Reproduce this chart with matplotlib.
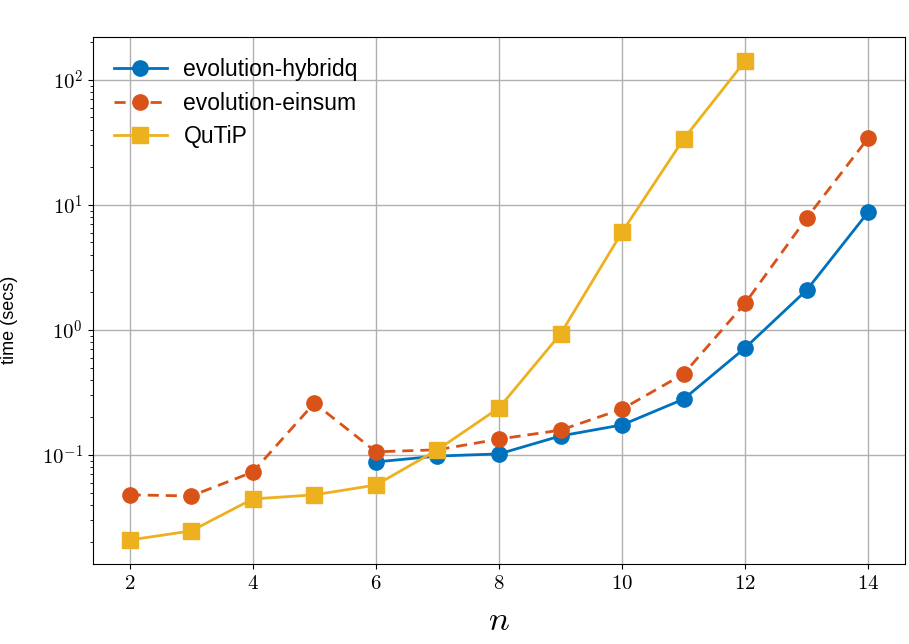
import math
import matplotlib
matplotlib.use("Agg")
import matplotlib.pyplot as plt
from matplotlib.ticker import FuncFormatter, LogLocator

plt.rcParams['mathtext.fontset'] = 'cm'
plt.rcParams['font.family'] = ['Liberation Sans', 'DejaVu Sans']

n_hybridq = [6, 7, 8, 9, 10, 11, 12, 13, 14]
t_hybridq = [0.088, 0.098, 0.102, 0.142, 0.174, 0.28, 0.72, 2.09, 8.8]

n_einsum = [2, 3, 4, 5, 6, 7, 8, 9, 10, 11, 12, 13, 14]
t_einsum = [0.048, 0.047, 0.073, 0.26, 0.106, 0.11, 0.134, 0.158, 0.233, 0.445, 1.64, 7.87, 34.4]

n_qutip = [2, 3, 4, 5, 6, 7, 8, 9, 10, 11, 12]
t_qutip = [0.0209, 0.0247, 0.0445, 0.048, 0.0575, 0.11, 0.238, 0.93, 6.08, 33.7, 142]

fig = plt.figure(figsize=(9.09, 6.44), dpi=100)
ax = fig.add_axes([0.102, 0.124, 0.894, 0.819])

ax.plot(n_hybridq, t_hybridq, '-o', color='#0072BD', lw=2, ms=11, label='evolution-hybridq')
ax.plot(n_einsum, t_einsum, '--o', color='#D95319', lw=2, ms=11, dashes=(4, 2.5), label='evolution-einsum')
ax.plot(n_qutip, t_qutip, '-s', color='#EDB120', lw=2, ms=11, label='QuTiP')

ax.set_yscale('log')
ax.set_xlim(1.4, 14.6)
ax.set_ylim(0.0134, 221)
ax.set_xticks(range(2, 15, 2))
ax.xaxis.set_major_formatter(FuncFormatter(lambda v, p: r'$%d$' % v))
ax.yaxis.set_major_locator(LogLocator(base=10))
ax.yaxis.set_major_formatter(FuncFormatter(lambda v, p: r'$10^{%d}$' % round(math.log10(v))))
ax.tick_params(labelsize=15)
ax.grid(True, which='major', color='#b0b0b0', lw=1)
ax.set_axisbelow(True)

ax.set_xlabel('$n$', fontsize=25, labelpad=8)
ax.set_ylabel('time (secs)', fontsize=13)
ax.yaxis.set_label_coords(-0.092, 0.463)
ax.legend(loc='upper left', frameon=False, fontsize=16.5, handlelength=2.27,
          handletextpad=0.74, labelspacing=0.44, borderaxespad=0.55)

fig.savefig('out.png', dpi=100)
